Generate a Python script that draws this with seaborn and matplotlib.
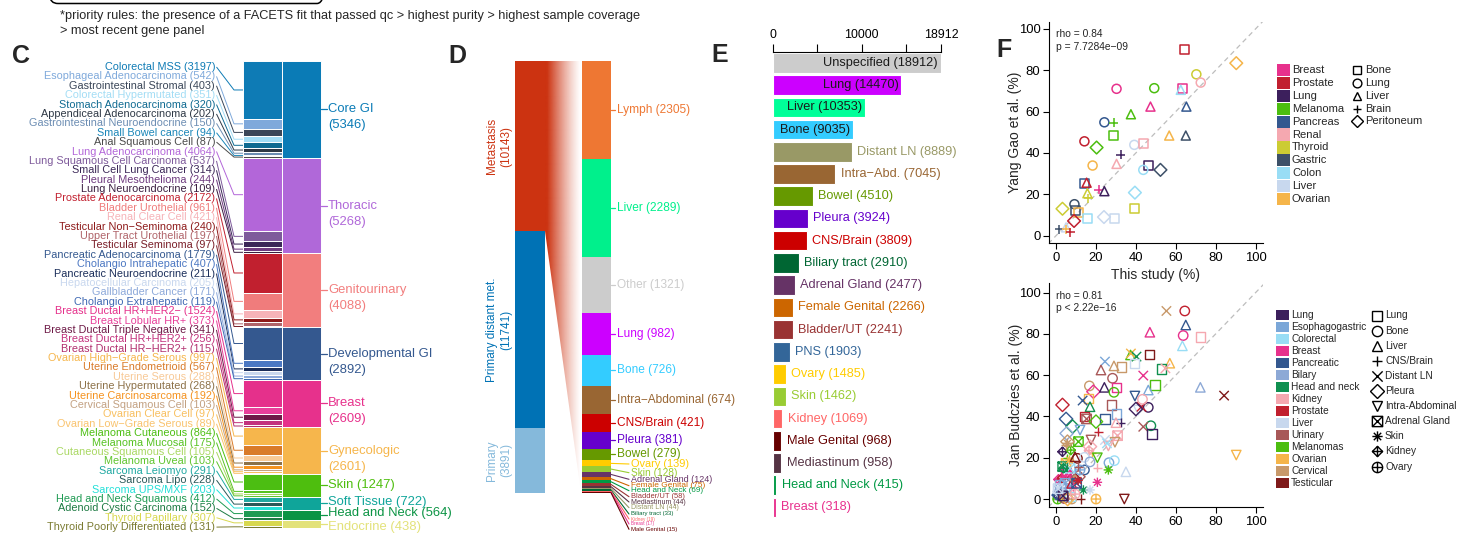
import numpy as np
import pandas as pd
import matplotlib
matplotlib.use("Agg")
import matplotlib.pyplot as plt
import matplotlib.colors as mcolors
import seaborn as sns
from matplotlib.path import Path
from matplotlib.patches import Rectangle, FancyBboxPatch, Polygon

# ----------------------------------------------------------------------------
# C: cancer types grouped into organ-level categories
# ----------------------------------------------------------------------------
group_names = ["Core GI", "Thoracic", "Genitourinary", "Developmental GI", "Breast",
               "Gynecologic", "Skin", "Soft Tissue", "Head and Neck", "Endocrine"]
group_counts = [5346, 5268, 4088, 2892, 2609, 2601, 1247, 722, 564, 438]
group_colors = ["#0A7BB6", "#B068D9", "#F27E7E", "#34588F", "#E7318C",
                "#F6B64C", "#4EBE0E", "#0FA59A", "#0B9444", "#E3E27A"]

subtype_names = [
    "Colorectal MSS", "Esophageal Adenocarcinoma", "Gastrointestinal Stromal",
    "Colorectal Hypermutated", "Stomach Adenocarcinoma", "Appendiceal Adenocarcinoma",
    "Gastrointestinal Neuroendocrine", "Small Bowel cancer", "Anal Squamous Cell",
    "Lung Adenocarcinoma", "Lung Squamous Cell Carcinoma", "Small Cell Lung Cancer",
    "Pleural Mesothelioma", "Lung Neuroendocrine",
    "Prostate Adenocarcinoma", "Bladder Urothelial", "Renal Clear Cell",
    "Testicular Non\u2212Seminoma", "Upper Tract Urothelial", "Testicular Seminoma",
    "Pancreatic Adenocarcinoma", "Cholangio Intrahepatic", "Pancreatic Neuroendocrine",
    "Hepatocellular Carcinoma", "Gallbladder Cancer", "Cholangio Extrahepatic",
    "Breast Ductal HR+HER2\u2212", "Breast Lobular HR+", "Breast Ductal Triple Negative",
    "Breast Ductal HR+HER2+", "Breast Ductal HR\u2212HER2+",
    "Ovarian High\u2212Grade Serous", "Uterine Endometrioid", "Uterine Serous",
    "Uterine Hypermutated", "Uterine Carcinosarcoma", "Cervical Squamous Cell",
    "Ovarian Clear Cell", "Ovarian Low\u2212Grade Serous",
    "Melanoma Cutaneous", "Melanoma Mucosal", "Cutaneous Squamous Cell", "Melanoma Uveal",
    "Sarcoma Leiomyo", "Sarcoma Lipo", "Sarcoma UPS/MXF",
    "Head and Neck Squamous", "Adenoid Cystic Carcinoma",
    "Thyroid Papillary", "Thyroid Poorly Differentiated"]
subtype_counts = [3197, 542, 403, 351, 320, 202, 150, 94, 87,
                  4064, 537, 314, 244, 109,
                  2172, 961, 421, 240, 197, 97,
                  1779, 407, 211, 205, 171, 119,
                  1524, 373, 341, 256, 115,
                  997, 567, 288, 268, 192, 103, 97, 89,
                  864, 175, 105, 103,
                  291, 228, 203,
                  412, 152,
                  307, 131]
subtype_colors = ["#0E7BB5", "#7FA9DB", "#3A4658", "#A3DDF5", "#0F6A91", "#2E3845",
                  "#6C8DB3", "#1A86B8", "#4A4A4A",
                  "#B366D9", "#7E5A9B", "#3B2757", "#6E3A7E", "#3A1E40",
                  "#C1202F", "#F07C7C", "#F7B3B8", "#8E1B1B", "#B0646A", "#7A1E28",
                  "#34588F", "#4B77C2", "#1B2E5A", "#C9D8EF", "#8DA9DA", "#3E68B3",
                  "#E5308B", "#E8409A", "#6E1A47", "#C3327D", "#B12F6E",
                  "#F6B64C", "#D97B2A", "#F8C996", "#8C7148", "#F5921E", "#C3A182",
                  "#F8BF5E", "#F9C36E",
                  "#4CBE12", "#56C221", "#A9D862", "#5FC52E",
                  "#1FA8A2", "#2A5959", "#22E0D8",
                  "#1E9A52", "#1C7A42",
                  "#D8D84E", "#7A7A30"]

# ----------------------------------------------------------------------------
# D: sample types and metastatic sites
# ----------------------------------------------------------------------------
sample_types = ["Metastasis", "Primary distant met.", "Primary"]
sample_counts = [10143, 11741, 3891]
sample_colors = ["#CC3311", "#0072B5", "#85B9DB"]

met_site_names = ["Lymph", "Liver", "Other", "Lung", "Bone", "Intra\u2212Abdominal",
                  "CNS/Brain", "Pleura", "Bowel", "Ovary", "Skin", "Adrenal Gland",
                  "Female Genital", "Head and Neck", "Bladder/UT", "Mediastinum",
                  "Distant LN", "Biliary tract", "Kidney", "Breast", "Male Genital"]
met_site_counts = [2305, 2289, 1321, 982, 726, 674, 421, 381, 279, 139, 128, 124,
                   75, 69, 58, 44, 44, 33, 19, 17, 15]
met_site_colors = ["#EE7733", "#00F08C", "#CCCCCC", "#CC00FF", "#33CCFF", "#996633",
                   "#CC0000", "#6600CC", "#669900", "#FFCC00", "#99CC33", "#663366",
                   "#CC6600", "#009944", "#993333", "#553344", "#999966", "#006633",
                   "#FF6666", "#E8318E", "#660000"]

# ----------------------------------------------------------------------------
# E: patients per metastatic site
# ----------------------------------------------------------------------------
site_names = ["Unspecified", "Lung", "Liver", "Bone", "Distant LN", "Intra\u2212Abd.",
              "Bowel", "Pleura", "CNS/Brain", "Biliary tract", "Adrenal Gland",
              "Female Genital", "Bladder/UT", "PNS", "Ovary", "Skin", "Kidney",
              "Male Genital", "Mediastinum", "Head and Neck", "Breast"]
site_counts = [18912, 14470, 10353, 9035, 8889, 7045, 4510, 3924, 3809, 2910, 2477,
               2266, 2241, 1903, 1485, 1462, 1069, 968, 958, 415, 318]
site_colors = ["#CCCCCC", "#CC00FF", "#00FF99", "#33CCFF", "#999966", "#996633",
               "#669900", "#6600CC", "#CC0000", "#006633", "#663366", "#CC6600",
               "#993333", "#336699", "#FFCC00", "#99CC33", "#FF6666", "#660000",
               "#553344", "#009944", "#E8318E"]
site_ticks = [0, 10000, 18912]

# ----------------------------------------------------------------------------
# F (top): comparison with Yang Gao et al.
# ----------------------------------------------------------------------------
gao_types = ["Breast", "Prostate", "Lung", "Melanoma", "Pancreas", "Renal", "Thyroid",
             "Gastric", "Colon", "Liver", "Ovarian"]
gao_colors = ["#E7318C", "#C1202F", "#3C1F5C", "#4CBE10", "#34588F", "#F5A8B0",
              "#CCCC33", "#3D5068", "#99DDF5", "#C8D8EE", "#F5B54A"]
gao_sites = ["Bone", "Lung", "Liver", "Brain", "Peritoneum"]
gao_cancer = ["Prostate", "Ovarian", "Thyroid", "Renal", "Breast", "Melanoma", "Breast",
              "Colon", "Breast", "Pancreas", "Melanoma", "Pancreas", "Melanoma",
              "Melanoma", "Ovarian", "Gastric", "Prostate", "Melanoma", "Liver", "Renal",
              "Lung", "Ovarian", "Renal", "Lung", "Gastric", "Colon", "Pancreas",
              "Prostate", "Breast", "Lung", "Thyroid", "Thyroid", "Colon", "Thyroid",
              "Thyroid", "Gastric", "Gastric", "Ovarian", "Colon", "Liver", "Liver",
              "Prostate", "Gastric", "Liver", "Ovarian", "Prostate"]
gao_site = ["Bone", "Peritoneum", "Lung", "Lung", "Lung", "Lung", "Bone", "Liver",
            "Liver", "Liver", "Liver", "Lung", "Brain", "Bone", "Liver", "Liver", "Lung",
            "Peritoneum", "Lung", "Bone", "Brain", "Lung", "Liver", "Bone", "Peritoneum",
            "Lung", "Bone", "Liver", "Brain", "Liver", "Liver", "Brain", "Peritoneum",
            "Peritoneum", "Bone", "Lung", "Bone", "Bone", "Bone", "Peritoneum", "Bone",
            "Peritoneum", "Brain", "Liver", "Brain", "Brain"]
gao_this_study = [64.5, 90.3, 70.3, 72.5, 30.3, 49.2, 63.3, 62.5, 47.3, 65.3, 37.5, 24.2,
                  29.0, 28.8, 56.7, 65.0, 14.2, 20.3, 39.2, 44.0, 32.5, 18.3, 30.3, 46.3,
                  52.3, 43.7, 14.2, 15.3, 21.5, 24.2, 15.7, 16.2, 39.5, 3.2, 39.2, 9.2,
                  9.5, 11.2, 15.7, 24.0, 29.2, 9.0, 1.5, 5.0, 5.0, 7.0]
gao_reported = [90.0, 83.4, 78.0, 74.0, 71.0, 71.3, 71.0, 70.5, 62.4, 62.4, 58.7, 54.8,
                54.7, 48.5, 48.4, 48.4, 45.6, 42.6, 43.9, 44.4, 39.0, 33.9, 34.7, 33.9,
                31.8, 31.8, 25.0, 25.6, 22.1, 21.5, 20.5, 18.0, 20.8, 13.0, 13.0, 15.2,
                12.4, 11.3, 8.1, 9.0, 8.1, 7.1, 3.2, 4.0, 3.0, 1.6]

# ----------------------------------------------------------------------------
# F (bottom): comparison with Jan Budczies et al.
# ----------------------------------------------------------------------------
bud_types = ["Lung", "Esophagogastric", "Colorectal", "Breast", "Pancreatic", "Bilary",
             "Head and neck", "Kidney", "Prostate", "Liver", "Urinary", "Melanomas",
             "Ovarian", "Cervical", "Testicular"]
bud_colors = ["#3C1F5C", "#7BA7D8", "#99DDF5", "#E7318C", "#34588F", "#8DA9D6",
              "#109050", "#F5A8B0", "#C1202F", "#C8D8EE", "#A85858", "#4CBE10",
              "#F5B54A", "#C8996A", "#7F1A1A"]
bud_sites = ["Lung", "Bone", "Liver", "CNS/Brain", "Distant LN", "Pleura",
             "Intra-Abdominal", "Adrenal Gland", "Skin", "Kidney", "Ovary"]
bud_cancer = [
    "Cervical", "Prostate", "Pancreatic", "Breast", "Breast", "Kidney", "Colorectal",
    "Testicular", "Melanomas", "Ovarian", "Head and neck", "Esophagogastric", "Urinary",
    "Cervical", "Cervical", "Liver", "Ovarian", "Head and neck", "Kidney", "Melanomas",
    "Bilary", "Testicular", "Ovarian", "Breast", "Urinary", "Cervical", "Breast",
    "Pancreatic", "Esophagogastric", "Breast", "Lung", "Melanomas", "Ovarian",
    "Pancreatic", "Prostate", "Head and neck", "Urinary", "Liver", "Lung", "Prostate",
    "Lung", "Kidney", "Pancreatic", "Prostate", "Urinary", "Pancreatic",
    "Esophagogastric", "Lung", "Kidney", "Melanomas", "Prostate", "Head and neck",
    "Urinary", "Head and neck", "Bilary", "Esophagogastric", "Lung", "Kidney", "Liver",
    "Cervical", "Urinary", "Melanomas", "Cervical", "Kidney", "Lung", "Melanomas",
    "Kidney", "Ovarian", "Kidney", "Testicular", "Liver", "Melanomas",
    "Esophagogastric", "Colorectal", "Pancreatic", "Kidney", "Melanomas", "Liver",
    "Breast", "Head and neck", "Testicular", "Ovarian", "Testicular", "Melanomas",
    "Cervical", "Testicular", "Breast", "Prostate", "Breast", "Ovarian", "Melanomas",
    "Breast", "Esophagogastric", "Lung", "Pancreatic", "Liver", "Colorectal", "Bilary",
    "Bilary", "Esophagogastric", "Prostate", "Cervical", "Urinary", "Colorectal",
    "Head and neck", "Cervical", "Liver", "Colorectal", "Urinary", "Ovarian", "Breast",
    "Kidney", "Pancreatic", "Head and neck", "Ovarian", "Esophagogastric", "Cervical",
    "Testicular", "Urinary", "Colorectal", "Bilary", "Prostate", "Lung", "Liver"]
bud_site = [
    "Distant LN", "Bone", "Liver", "Liver", "Bone", "Lung", "Liver", "Lung", "Liver",
    "Distant LN", "Distant LN", "Distant LN", "Liver", "Liver", "Lung", "Lung", "Liver",
    "Lung", "Distant LN", "Lung", "Liver", "Distant LN", "Intra-Abdominal",
    "Distant LN", "Bone", "Bone", "Lung", "Intra-Abdominal", "Liver", "Pleura", "Liver",
    "Bone", "Lung", "Distant LN", "Pleura", "Liver", "Lung", "Intra-Abdominal", "Bone",
    "Distant LN", "Pleura", "Bone", "Pleura", "Lung", "Adrenal Gland", "Lung", "Lung",
    "CNS/Brain", "Liver", "Pleura", "CNS/Brain", "Bone", "Distant LN", "Pleura",
    "Pleura", "Intra-Abdominal", "Lung", "Adrenal Gland", "Distant LN",
    "Intra-Abdominal", "Intra-Abdominal", "Adrenal Gland", "Pleura", "Intra-Abdominal",
    "Kidney", "Kidney", "Pleura", "CNS/Brain", "Kidney", "Bone", "Bone",
    "Intra-Abdominal", "Bone", "Bone", "Bone", "CNS/Brain", "Skin", "Liver", "Skin",
    "Skin", "Intra-Abdominal", "Ovary", "CNS/Brain", "Ovary", "Ovary", "Pleura",
    "Kidney", "Kidney", "Adrenal Gland", "Adrenal Gland", "CNS/Brain", "Ovary",
    "Pleura", "Ovary", "Kidney", "Pleura", "Pleura", "Lung", "Ovary", "Adrenal Gland",
    "Liver", "Kidney", "Pleura", "Adrenal Gland", "Kidney", "Skin", "Skin", "Lung",
    "Ovary", "Pleura", "CNS/Brain", "Ovary", "Adrenal Gland", "Adrenal Gland", "Skin",
    "Ovary", "CNS/Brain", "Liver", "CNS/Brain", "Distant LN", "Bone", "Skin",
    "Adrenal Gland", "Adrenal Gland"]
bud_this_study = [
    55.3, 64.5, 65.0, 47.0, 63.7, 72.5, 63.3, 46.7, 37.3, 37.5, 40.3, 24.5, 22.5, 29.0,
    32.8, 39.2, 57.0, 52.8, 54.8, 49.5, 72.3, 84.2, 90.3, 43.7, 28.3, 16.7, 30.3, 39.5,
    46.2, 18.7, 24.2, 29.0, 16.2, 13.3, 3.2, 17.0, 27.8, 41.2, 46.2, 42.8, 40.0, 43.3,
    5.0, 14.2, 15.3, 24.5, 30.3, 32.3, 30.0, 20.0, 21.2, 47.5, 43.7, 8.3, 5.3, 12.0,
    48.0, 30.8, 24.5, 29.5, 17.5, 11.2, 5.7, 26.2, 3.2, 7.3, 17.0, 17.8, 16.5, 10.7,
    14.2, 20.7, 26.5, 29.2, 14.2, 20.7, 26.2, 35.0, 20.7, 13.7, 34.2, 20.0, 12.3, 0.8,
    7.8, 8.7, 1.2, 2.8, 5.3, 5.0, 5.7, 5.0, 2.8, 1.2, 0.3, 1.7, 3.7, 2.0, 5.3, 4.5, 7.8,
    9.5, 11.2, 7.0, 3.7, 5.7, 17.0, 7.0, 4.0, 5.8, 8.7, 9.5, 10.3, 3.3, 6.7, 12.0, 5.0,
    9.5, 11.2, 25.5, 17.0, 11.0, 3.5, 1.0]
bud_reported = [
    91.1, 91.1, 84.3, 80.8, 79.2, 78.4, 74.2, 70.1, 69.8, 70.5, 69.0, 66.6, 62.5, 64.5,
    64.0, 65.7, 65.8, 63.0, 63.3, 55.3, 54.1, 50.1, 21.3, 59.8, 58.5, 54.8, 54.1, 49.9,
    52.8, 52.0, 54.1, 51.7, 48.8, 47.7, 45.6, 44.7, 45.6, 43.1, 44.4, 44.7, 43.6, 48.3,
    38.8, 39.9, 38.8, 38.8, 41.2, 37.0, 37.0, 37.5, 32.6, 35.5, 35.0, 35.1, 31.8, 33.4,
    31.5, 30.7, 28.6, 27.5, 28.6, 27.8, 27.8, 25.7, 22.9, 23.7, 25.4, 22.5, 23.5, 19.7,
    20.2, 20.0, 17.6, 18.6, 14.1, 15.2, 14.1, 13.2, 8.1, 4.4, 0.0, 0.0, 0.0, 0.0, 0.0,
    10.0, 9.5, 10.0, 12.4, 17.3, 19.7, 13.2, 6.0, 2.4, 1.9, 3.6, 4.4, 6.8, 5.2, 7.6, 7.6,
    9.2, 10.8, 14.9, 14.9, 27.0, 4.4, 1.1, 0.3, 0.0, 6.0, 2.4, 7.6, 15.7, 18.9, 14.1,
    26.2, 20.5, 15.7, 27.0, 18.0, 9.0, 1.5, 5.0]

# ----------------------------------------------------------------------------
# Figure setup
# ----------------------------------------------------------------------------
sns.set_style("white")
plt.rcParams["font.family"] = ["Liberation Sans", "DejaVu Sans"]
plt.rcParams["axes.unicode_minus"] = True

W, H = 1475, 535
fig = plt.figure(figsize=(W / 100, H / 100), dpi=100)


def add_px_axes(x0, y0, x1, y1):
    """Axes placed by pixel box (origin at the top-left corner of the figure)."""
    return fig.add_axes([x0 / W, 1 - y1 / H, (x1 - x0) / W, (y1 - y0) / H])


# Marker shapes (open symbols)
def _lines(segments):
    verts, codes = [], []
    for a, b in segments:
        verts += [a, b]
        codes += [Path.MOVETO, Path.LINETO]
    return Path(verts, codes)


SQ = [(-1, -1), (1, -1), (1, 1), (-1, 1), (-1, -1)]
plus_marker = _lines([((-1, 0), (1, 0)), ((0, -1), (0, 1))])
cross_marker = _lines([((-1, -1), (1, 1)), ((-1, 1), (1, -1))])
star_marker = _lines([((-1, 0), (1, 0)), ((0, -1), (0, 1)),
                      ((-.72, -.72), (.72, .72)), ((-.72, .72), (.72, -.72))])
boxx_marker = Path.make_compound_path(
    Path(SQ, [Path.MOVETO] + [Path.LINETO] * 3 + [Path.CLOSEPOLY]),
    _lines([((-1, -1), (1, 1)), ((-1, 1), (1, -1))]))
diamondplus_marker = Path.make_compound_path(
    Path([(0, 1.3), (1.3, 0), (0, -1.3), (-1.3, 0), (0, 1.3)],
         [Path.MOVETO] + [Path.LINETO] * 3 + [Path.CLOSEPOLY]),
    _lines([((0, 1.3), (0, -1.3)), ((-1.3, 0), (1.3, 0))]))
circleplus_marker = Path.make_compound_path(
    Path.unit_circle(), _lines([((-1, 0), (1, 0)), ((0, -1), (0, 1))]))

gao_markers = ["s", "o", "^", plus_marker, "D"]
bud_markers = ["s", "o", "^", plus_marker, cross_marker, "D", "v", boxx_marker,
               star_marker, diamondplus_marker, circleplus_marker]

# ----------------------------------------------------------------------------
# Panel C
# ----------------------------------------------------------------------------
axC = add_px_axes(0, 61, 450, 528)
c_total = sum(group_counts)
px_per_count = 467 / c_total
axC.set_xlim(0, 450)
axC.set_ylim(c_total, 0)
axC.axis("off")

sub_bottom = np.concatenate([[0], np.cumsum(subtype_counts)[:-1]])
axC.bar(262.25, subtype_counts, bottom=sub_bottom, width=38.5, color=subtype_colors,
        edgecolor="white", linewidth=0.7, zorder=2)
grp_bottom = np.concatenate([[0], np.cumsum(group_counts)[:-1]])
axC.bar(301.5, group_counts, bottom=grp_bottom, width=38.5, color=group_colors,
        edgecolor="white", linewidth=0.7, zorder=2)

for i, (name, cnt, col) in enumerate(zip(subtype_names, subtype_counts, subtype_colors)):
    y_lab = (6 + 9.39 * i) / px_per_count
    y_mid = sub_bottom[i] + cnt / 2
    axC.text(215, y_lab, f"{name} ({cnt})", ha="right", va="center", fontsize=7.8,
             color=col)
    axC.plot([216.5, 234, 243], [y_lab, y_mid, y_mid], color=col, lw=0.7, zorder=1,
             solid_capstyle="butt")

# small vertical nudges (px) that keep the tightly packed bottom labels apart
group_label_nudge = [0, 0, 0, 0, 0, 0, 0, -1, -1.5, 3]
for k, (name, cnt, col) in enumerate(zip(group_names, group_counts, group_colors)):
    mid = grp_bottom[k] + cnt / 2
    y_txt = mid + group_label_nudge[k] / px_per_count
    axC.plot([320.8, 326.5], [mid, mid], color=col, lw=0.9)
    if k < 6:
        axC.text(328, y_txt, name, ha="left", va="center", fontsize=9.4, color=col)
        axC.text(328, y_txt + 16 / px_per_count, f"({cnt})", ha="left", va="center",
                 fontsize=9.4, color=col)
    else:
        axC.text(328, y_txt, f"{name} ({cnt})", ha="left", va="center", fontsize=9.4,
                 color=col)

# ----------------------------------------------------------------------------
# Panel D
# ----------------------------------------------------------------------------
d_total = sum(sample_counts)
met_total = sum(met_site_counts)

axDL = add_px_axes(440, 61, 770, 493)
axDL.set_xlim(440, 770)
axDL.set_ylim(d_total, 0)
axDL.axis("off")
smp_bottom = np.concatenate([[0], np.cumsum(sample_counts)[:-1]])
axDL.bar(530, sample_counts, bottom=smp_bottom, width=30, color=sample_colors,
         linewidth=0)
for name, cnt, col, b in zip(sample_types, sample_counts, sample_colors, smp_bottom):
    axDL.text(499.5, b + cnt / 2, f"{name}\n({cnt})", rotation=90, ha="center",
              va="center", multialignment="center", fontsize=8.5, color=col,
              linespacing=1.25)

axDR = add_px_axes(440, 61, 770, 493)
axDR.set_xlim(440, 770)
axDR.set_ylim(met_total, 0)
axDR.axis("off")

# fading ribbon from the metastasis block to the site breakdown
ratio = met_total / d_total
wedge = Polygon([(545, 0), (581, 0), (581, met_total), (545, sample_counts[0] * ratio)],
                closed=True, facecolor="none", edgecolor="none")
axDR.add_patch(wedge)
tt = np.linspace(0, 1, 256)
grad = np.zeros((1, 256, 4))
grad[..., :3] = mcolors.to_rgb(sample_colors[0])
grad[..., 3] = np.clip(1.08 * (1 - tt) ** 1.25, 0, 1)
im = axDR.imshow(grad, extent=(545, 581, met_total, 0), aspect="auto",
                 interpolation="bilinear", zorder=1)
im.set_clip_path(wedge)
axDR.set_xlim(440, 770)
axDR.set_ylim(met_total, 0)

met_bottom = np.concatenate([[0], np.cumsum(met_site_counts)[:-1]])
axDR.bar(596.25, met_site_counts, bottom=met_bottom, width=29.5, color=met_site_colors,
         linewidth=0, zorder=2)

px_per_met = 432 / met_total
small_label_px = [464, 472.7, 479.3, 485.7, 490.7, 496.7, 502, 507.7, 514, 519, 524, 529.3]
small_label_fs = [7.9, 7.3, 6.5, 6.0, 5.8, 5.4, 5.0, 5.0, 4.3, 3.3, 3.3, 4.3]
for j, (name, cnt, col, b) in enumerate(zip(met_site_names, met_site_counts,
                                            met_site_colors, met_bottom)):
    mid = b + cnt / 2
    if j < 9:
        axDR.plot([611, 615], [mid, mid], color=col, lw=0.9)
        axDR.text(617, mid, f"{name} ({cnt})", ha="left", va="center", fontsize=8.6,
                  color=col)
    else:
        k = j - 9
        y_lab = (small_label_px[k] - 61) / px_per_met
        axDR.plot([611, 629], [mid, y_lab], color=col, lw=0.8, clip_on=False)
        axDR.text(631, y_lab, f"{name} ({cnt})", ha="left", va="center",
                  fontsize=small_label_fs[k], color=col, clip_on=False)

# ----------------------------------------------------------------------------
# Panel E
# ----------------------------------------------------------------------------
axE = add_px_axes(772.7, 51.7, 941, 518.6)
dfE = pd.DataFrame({"site": site_names, "count": site_counts})
sns.barplot(data=dfE, x="count", y="site", hue="site", order=site_names,
            hue_order=site_names, palette=dict(zip(site_names, site_colors)),
            saturation=1, width=0.88, edgecolor="white", linewidth=0.8,
            errorbar=None, legend=False, ax=axE)
axE.set_xlim(0, site_ticks[-1])
axE.set_ylim(len(site_names) - 0.5, -0.5)
axE.set_xlabel("")
axE.set_ylabel("")
axE.set_yticks([])
axE.xaxis.tick_top()
axE.set_xticks(site_ticks)
axE.set_xticklabels([str(t) for t in site_ticks])
axE.set_xticks([5000, 15000], minor=True)
axE.tick_params(axis="x", which="both", top=True, bottom=False, labeltop=True,
                labelbottom=False, direction="out", length=5.5, width=0.8,
                colors="black", labelsize=8.9, pad=2)
for s in ["left", "right", "bottom"]:
    axE.spines[s].set_visible(False)
axE.spines["top"].set_color("black")
axE.spines["top"].set_linewidth(0.8)
axE.set_facecolor("none")
inside_pad = 3 / (168.3 / site_ticks[-1])
for i, (name, cnt, col) in enumerate(zip(site_names, site_counts, site_colors)):
    label = f"{name} ({cnt})"
    if i < 4:
        axE.text(cnt - inside_pad, i, label, ha="right", va="center", fontsize=9.2,
                 color="#1A1A1A")
    else:
        axE.annotate(label, (cnt, i), xytext=(4, 0), textcoords="offset points",
                     ha="left", va="center", fontsize=9.2, color=col,
                     annotation_clip=False)


# ----------------------------------------------------------------------------
# Panel F
# ----------------------------------------------------------------------------
def style_scatter(ax, ylim):
    ax.set_xlim(-3.7, 103.7)
    ax.set_ylim(*ylim)
    ax.set_xticks(range(0, 101, 20))
    ax.set_yticks(range(0, 101, 20))
    for s in ["top", "right"]:
        ax.spines[s].set_visible(False)
    for s in ["left", "bottom"]:
        ax.spines[s].set_color("black")
        ax.spines[s].set_linewidth(0.8)
    ax.tick_params(axis="both", which="both", bottom=True, left=True, direction="out",
                   length=4, width=0.8, colors="black", labelsize=9.4, pad=2)
    ax.set_facecolor("none")
    ax.plot([-10, 110], [-10, 110], ls=(0, (4, 3)), color="#BDBDBD", lw=0.9, zorder=0)


def open_markers(ax, lw):
    coll = ax.collections[-1]
    fc = coll.get_facecolors()
    coll.set_edgecolors(fc)
    coll.set_facecolors("none")
    coll.set_linewidths(lw)


axF1 = add_px_axes(1048.7, 22, 1263, 243.3)
dfG = pd.DataFrame({"cancer": gao_cancer, "site": gao_site,
                    "this_study": gao_this_study, "reported": gao_reported})
sns.scatterplot(data=dfG, x="this_study", y="reported", hue="cancer", style="site",
                hue_order=gao_types, style_order=gao_sites,
                palette=dict(zip(gao_types, gao_colors)),
                markers=dict(zip(gao_sites, gao_markers)), s=42, legend=False, ax=axF1)
open_markers(axF1, 1.1)
style_scatter(axF1, (-3.7, 103.3))
axF1.set_xlabel("This study (%)", fontsize=10, labelpad=3)
axF1.set_ylabel("Yang Gao et al. (%)", fontsize=10)
axF1.yaxis.set_label_coords(-0.126, 0.5)
axF1.text(0, 97.4, "rho = 0.84", fontsize=7.4, ha="left", va="center")
axF1.text(0, 91.3, "p = 7.7284e\u221209", fontsize=7.4, ha="left", va="center")

axF2 = add_px_axes(1048.7, 283.3, 1263, 507.3)
dfB = pd.DataFrame({"cancer": bud_cancer, "site": bud_site,
                    "this_study": bud_this_study, "reported": bud_reported})
sns.scatterplot(data=dfB, x="this_study", y="reported", hue="cancer", style="site",
                hue_order=bud_types, style_order=bud_sites,
                palette=dict(zip(bud_types, bud_colors)),
                markers=dict(zip(bud_sites, bud_markers)), s=46, legend=False, ax=axF2)
open_markers(axF2, 1.0)
style_scatter(axF2, (-4.0, 104.5))
axF2.set_xlabel("")
axF2.set_ylabel("Jan Budczies et al. (%)", fontsize=10)
axF2.yaxis.set_label_coords(-0.122, 0.5)
axF2.text(0, 98.4, "rho = 0.81", fontsize=7.4, ha="left", va="center")
axF2.text(0, 92.6, "p < 2.22e\u221216", fontsize=7.4, ha="left", va="center")

# ----------------------------------------------------------------------------
# Overlay: panel letters, footnote, legends
# ----------------------------------------------------------------------------
axO = fig.add_axes([0, 0, 1, 1])
axO.set_xlim(0, W)
axO.set_ylim(H, 0)
axO.axis("off")

for letter, (lx, ly) in {"C": (21, 56), "D": (457.5, 56), "E": (720, 55),
                         "F": (1004, 50)}.items():
    axO.text(lx, ly, letter, fontsize=18, fontweight="bold", ha="center", va="center")

axO.add_patch(FancyBboxPatch((50, -30), 275, 33.5,
                             boxstyle="round,pad=0,rounding_size=8", fill=False,
                             edgecolor="black", linewidth=1.1))
axO.text(60, 16, "*priority rules: the presence of a FACETS fit that passed qc > highest "
         "purity > highest sample coverage", fontsize=9.2, ha="left", va="center")
axO.text(60, 31, "> most recent gene panel", fontsize=9.2, ha="left", va="center")

# legend for the top scatter
for k, (name, col) in enumerate(zip(gao_types, gao_colors)):
    yc = 70 + 12.9 * k
    axO.add_patch(Rectangle((1277, yc - 6.1), 12.6, 12.2, facecolor=col,
                            edgecolor="none"))
    axO.text(1292, yc, name, fontsize=8, ha="left", va="center")
for k, (name, m) in enumerate(zip(gao_sites, gao_markers)):
    yc = 70 + 12.85 * k
    axO.plot([1357], [yc], marker=m, ms=6.3, mfc="none", mec="black", mew=1.0,
             ls="none")
    axO.text(1365, yc, name, fontsize=8, ha="left", va="center")

# legend for the bottom scatter
for k, (name, col) in enumerate(zip(bud_types, bud_colors)):
    yc = 315 + 12 * k
    axO.add_patch(Rectangle((1276, yc - 5.4), 12.6, 10.8, facecolor=col,
                            edgecolor="none"))
    axO.text(1291, yc, name, fontsize=7.3, ha="left", va="center")
for k, (name, m) in enumerate(zip(bud_sites, bud_markers)):
    yc = 315.5 + 15.1 * k
    axO.plot([1377], [yc], marker=m, ms=7.4, mfc="none", mec="black", mew=1.0,
             ls="none")
    axO.text(1385, yc, name, fontsize=7.3, ha="left", va="center")

fig.savefig("out.png", dpi=100)
